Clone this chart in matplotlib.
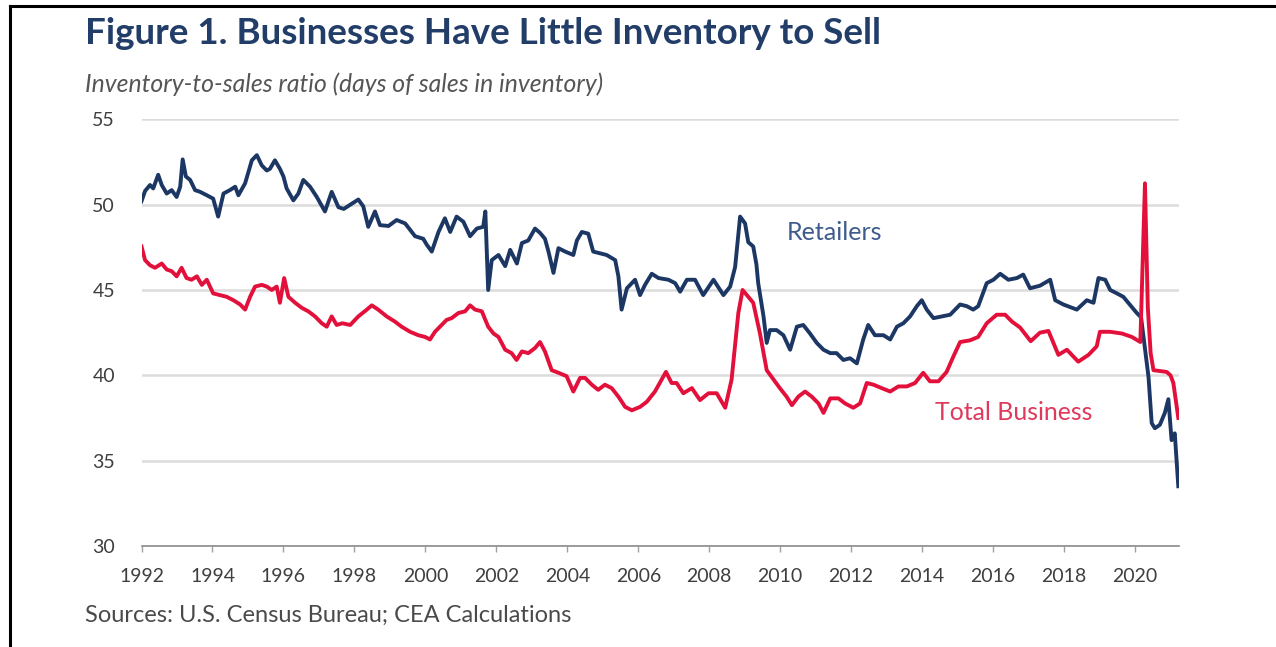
# inventory-to-sales ratio, retailers vs total business
import matplotlib
matplotlib.use("Agg")
import matplotlib.pyplot as plt
from matplotlib.lines import Line2D

plt.rcParams['font.family'] = ['Lato', 'DejaVu Sans']

# values (year fraction, days of sales)
retail_t = [1992.00, 1992.10, 1992.24, 1992.33, 1992.47, 1992.57, 1992.71, 1992.85, 1992.99,
            1993.09, 1993.16, 1993.25, 1993.37, 1993.51, 1993.65, 1993.84, 1994.02, 1994.16,
            1994.31, 1994.49, 1994.64, 1994.73, 1994.92, 1995.11, 1995.25, 1995.39, 1995.53,
            1995.62, 1995.76, 1995.90, 1996.00, 1996.09, 1996.28, 1996.42, 1996.56, 1996.75,
            1996.94, 1997.17, 1997.36, 1997.55, 1997.70, 1997.85, 1998.11, 1998.25, 1998.39,
            1998.58, 1998.72, 1998.96, 1999.19, 1999.43, 1999.71, 1999.94, 2000.04, 2000.18,
            2000.37, 2000.55, 2000.70, 2000.88, 2001.07, 2001.26, 2001.45, 2001.63, 2001.69,
            2001.77, 2001.87, 2002.06, 2002.25, 2002.39, 2002.58, 2002.72, 2002.90, 2003.09,
            2003.23, 2003.37, 2003.47, 2003.61, 2003.75, 2003.94, 2004.17, 2004.27, 2004.41,
            2004.59, 2004.73, 2004.92, 2005.11, 2005.35, 2005.44, 2005.53, 2005.68, 2005.91,
            2006.05, 2006.19, 2006.38, 2006.57, 2006.85, 2007.04, 2007.18, 2007.37, 2007.60,
            2007.83, 2008.12, 2008.40, 2008.59, 2008.73, 2008.87, 2009.01, 2009.10, 2009.24,
            2009.33, 2009.38, 2009.53, 2009.62, 2009.71, 2009.90, 2010.09, 2010.28, 2010.47,
            2010.65, 2010.84, 2011.03, 2011.22, 2011.41, 2011.59, 2011.78, 2011.97, 2012.16,
            2012.34, 2012.48, 2012.67, 2012.91, 2013.10, 2013.29, 2013.47, 2013.66, 2013.85,
            2013.99, 2014.13, 2014.32, 2014.55, 2014.79, 2015.07, 2015.26, 2015.44, 2015.58,
            2015.82, 2016.01, 2016.20, 2016.43, 2016.67, 2016.85, 2017.04, 2017.32, 2017.61,
            2017.75, 2017.98, 2018.36, 2018.64, 2018.83, 2018.97, 2019.16, 2019.30, 2019.49,
            2019.67, 2019.81, 2020.05, 2020.17, 2020.38, 2020.47, 2020.56, 2020.70, 2020.84,
            2020.94, 2021.03, 2021.12, 2021.22]
retail_v = [50.2, 50.8, 51.15, 50.95, 51.75, 51.15, 50.65, 50.85, 50.45,
            51.05, 52.65, 51.65, 51.45, 50.85, 50.75, 50.55, 50.35, 49.3,
            50.65, 50.85, 51.05, 50.55, 51.25, 52.6, 52.9, 52.3, 52.0,
            52.1, 52.6, 52.1, 51.65, 50.95, 50.25, 50.65, 51.45, 51.05,
            50.45, 49.6, 50.75, 49.85, 49.75, 49.95, 50.3, 49.9, 48.7,
            49.6, 48.8, 48.75, 49.1, 48.9, 48.15, 48.0, 47.65, 47.25,
            48.4, 49.2, 48.4, 49.3, 49.0, 48.15, 48.6, 48.7, 49.6,
            45.0, 46.75, 47.05, 46.4, 47.35, 46.55, 47.75, 47.9, 48.6,
            48.35, 48.0, 47.25, 46.0, 47.45, 47.25, 47.05, 47.9, 48.4,
            48.3, 47.25, 47.15, 47.05, 46.75, 45.8, 43.85, 45.1, 45.6,
            44.7, 45.3, 45.95, 45.7, 45.6, 45.4, 44.9, 45.6, 45.6,
            44.7, 45.6, 44.7, 45.2, 46.35, 49.3, 48.9, 47.8, 47.55,
            46.5, 45.4, 43.45, 41.9, 42.65, 42.65, 42.35, 41.5, 42.85,
            42.95, 42.45, 41.9, 41.5, 41.3, 41.3, 40.9, 41.0, 40.7,
            42.1, 42.95, 42.35, 42.35, 42.1, 42.85, 43.05, 43.45, 44.05,
            44.4, 43.85, 43.35, 43.45, 43.55, 44.15, 44.05, 43.85, 44.05,
            45.4, 45.6, 45.95, 45.6, 45.7, 45.9, 45.1, 45.25, 45.6,
            44.4, 44.15, 43.85, 44.4, 44.25, 45.7, 45.6, 45.0, 44.8,
            44.6, 44.25, 43.65, 43.4, 39.9, 37.2, 36.9, 37.1, 37.8,
            38.6, 36.2, 36.6, 33.5]

total_t = [1992.00, 1992.10, 1992.24, 1992.38, 1992.57, 1992.71, 1992.85, 1992.99, 1993.13,
           1993.27, 1993.41, 1993.56, 1993.70, 1993.84, 1994.02, 1994.21, 1994.40, 1994.59,
           1994.78, 1994.92, 1995.06, 1995.20, 1995.39, 1995.53, 1995.67, 1995.81, 1995.90,
           1996.02, 1996.14, 1996.33, 1996.52, 1996.70, 1996.89, 1997.08, 1997.22, 1997.36,
           1997.50, 1997.66, 1997.88, 1998.11, 1998.35, 1998.49, 1998.67, 1998.91, 1999.14,
           1999.33, 1999.57, 1999.80, 1999.99, 2000.13, 2000.27, 2000.46, 2000.60, 2000.74,
           2000.93, 2001.12, 2001.26, 2001.40, 2001.59, 2001.77, 2001.92, 2002.06, 2002.25,
           2002.43, 2002.57, 2002.72, 2002.90, 2003.09, 2003.23, 2003.37, 2003.56, 2003.75,
           2003.98, 2004.17, 2004.36, 2004.50, 2004.69, 2004.87, 2005.06, 2005.25, 2005.44,
           2005.63, 2005.82, 2006.05, 2006.24, 2006.47, 2006.66, 2006.78, 2006.94, 2007.08,
           2007.27, 2007.51, 2007.74, 2007.98, 2008.21, 2008.45, 2008.63, 2008.82, 2008.94,
           2009.10, 2009.24, 2009.43, 2009.62, 2009.76, 2009.99, 2010.18, 2010.33, 2010.51,
           2010.70, 2010.89, 2011.08, 2011.22, 2011.41, 2011.64, 2011.83, 2012.06, 2012.25,
           2012.44, 2012.63, 2012.86, 2013.10, 2013.33, 2013.57, 2013.80, 2014.03, 2014.22,
           2014.46, 2014.69, 2014.88, 2015.07, 2015.35, 2015.58, 2015.82, 2016.10, 2016.34,
           2016.53, 2016.76, 2017.06, 2017.32, 2017.56, 2017.84, 2018.08, 2018.40, 2018.69,
           2018.92, 2019.01, 2019.30, 2019.63, 2019.91, 2020.15, 2020.28, 2020.36, 2020.44,
           2020.52, 2020.89, 2021.00, 2021.08, 2021.22]
total_v = [47.55, 46.75, 46.45, 46.3, 46.55, 46.2, 46.1, 45.8, 46.3,
           45.7, 45.6, 45.8, 45.3, 45.6, 44.8, 44.7, 44.6, 44.4,
           44.15, 43.85, 44.6, 45.2, 45.3, 45.2, 45.0, 45.2, 44.25,
           45.7, 44.6, 44.25, 43.95, 43.75, 43.45, 43.05, 42.85, 43.45,
           42.95, 43.05, 42.95, 43.45, 43.85, 44.1, 43.85, 43.45, 43.15,
           42.85, 42.55, 42.35, 42.25, 42.1, 42.55, 42.95, 43.25, 43.35,
           43.65, 43.75, 44.1, 43.85, 43.75, 42.85, 42.45, 42.25, 41.5,
           41.3, 40.9, 41.4, 41.3, 41.6, 41.95, 41.4, 40.3, 40.15,
           39.95, 39.05, 39.85, 39.85, 39.45, 39.15, 39.45, 39.25, 38.75,
           38.15, 37.95, 38.15, 38.45, 39.05, 39.75, 40.2, 39.55, 39.55,
           38.95, 39.25, 38.55, 38.95, 38.95, 38.1, 39.75, 43.65, 45.0,
           44.6, 44.25, 42.45, 40.3, 39.9, 39.25, 38.75, 38.25, 38.75,
           39.05, 38.75, 38.35, 37.8, 38.65, 38.65, 38.35, 38.1, 38.35,
           39.55, 39.45, 39.25, 39.05, 39.35, 39.35, 39.55, 40.15, 39.65,
           39.65, 40.2, 41.1, 41.95, 42.05, 42.25, 43.05, 43.55, 43.55,
           43.15, 42.8, 42.0, 42.5, 42.6, 41.2, 41.5, 40.8, 41.2,
           41.7, 42.55, 42.55, 42.45, 42.25, 41.95, 51.25, 44.0, 41.3,
           40.3, 40.2, 40.0, 39.55, 37.5]

year_ticks = list(range(1992, 2021, 2))
y_ticks = [30, 35, 40, 45, 50, 55]

navy = '#1C3763'
red = '#E2103A'

fig = plt.figure(figsize=(12.76, 6.47), dpi=100)
ax = fig.add_axes([0.1109, 0.1561, 0.8131, 0.6595])

ax.plot(retail_t, retail_v, color=navy, lw=2.8, solid_joinstyle='round')
ax.plot(total_t, total_v, color=red, lw=2.8, solid_joinstyle='round')

ax.set_xlim(1992, 2021.24)
ax.set_ylim(30, 55)
ax.set_xticks(year_ticks)
ax.set_xticklabels([str(y) for y in year_ticks])
ax.set_yticks(y_ticks)
ax.yaxis.grid(True, color='#DCDCDC', lw=1.8)
ax.set_axisbelow(True)
for s in ['top', 'right', 'left']:
    ax.spines[s].set_visible(False)
ax.spines['bottom'].set_color('#8C8C8C')
ax.spines['bottom'].set_linewidth(1.2)
ax.tick_params(axis='y', length=0, pad=19, labelsize=14, labelcolor='#3F3F3F')
ax.tick_params(axis='x', length=4, width=1, color='#A0A0A0', pad=12,
               labelsize=14, labelcolor='#3F3F3F')

t_ret = ax.text(2010.19, 48.34, 'Retailers', color='#3E5C8C', fontsize=15,
                ha='left', va='center')
t_tot = ax.text(2014.37, 37.8, 'Total Business', color='#DF3A5C', fontsize=15,
                ha='left', va='center')

title = fig.text(85 / 1276, 1 - 33 / 647, 'Figure 1. Businesses Have Little Inventory to Sell',
                 color='#213D68', fontsize=20, fontweight='bold', ha='left', va='center')
sub = fig.text(85 / 1276, 1 - 84 / 647, 'Inventory-to-sales ratio (days of sales in inventory)',
               color='#555555', fontsize=12, style='italic', ha='left', va='center')
src = fig.text(85 / 1276, 1 - 615 / 647, 'Sources: U.S. Census Bureau; CEA Calculations',
               color='#4A4A4A', fontsize=12.5, ha='left', va='center')

# scale the text so each line is as wide as in the reference
fig.canvas.draw()
r = fig.canvas.get_renderer()
for t, w in [(title, 797), (sub, 516), (src, 488), (t_ret, 96), (t_tot, 158)]:
    cur = t.get_window_extent(r).width
    t.set_fontsize(t.get_fontsize() * w / cur)

# black frame on the left and top
ytop = 1 - 6 / 647
fig.add_artist(Line2D([10 / 1276, 10 / 1276], [0, ytop], color='black', lw=2.2))
fig.add_artist(Line2D([10 / 1276, 1], [ytop, ytop], color='black', lw=2.2))

fig.savefig('out.png', dpi=100)
